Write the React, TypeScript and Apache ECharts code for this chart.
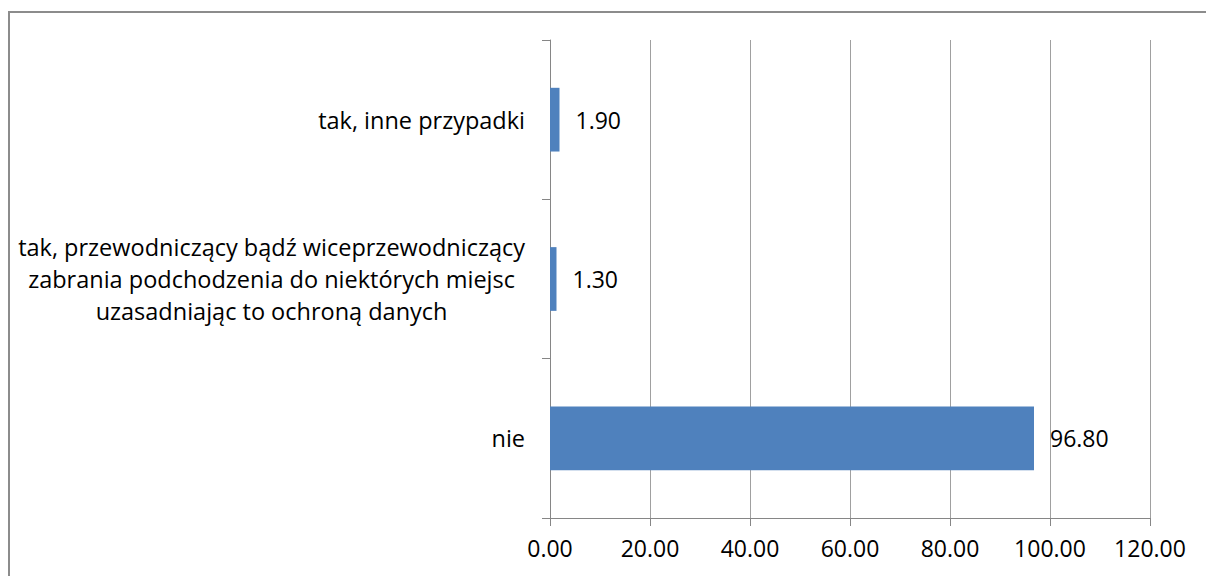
import React, { useEffect, useRef } from "react";
import * as echarts from "echarts";

const categories = [
  "nie",
  "tak, przewodniczący bądź wiceprzewodniczący\nzabrania podchodzenia do niektórych miejsc\nuzasadniając to ochroną danych",
  "tak, inne przypadki",
];
const values = [96.8, 1.3, 1.9];
const axisMin = 0;
const axisMax = 120;
const axisStep = 20;

const FONT = "Open Sans";

export default function App() {
  const ref = useRef<HTMLDivElement>(null);
  useEffect(() => {
    if (!ref.current) return;
    const chart = echarts.init(ref.current, null, { renderer: "svg" });
    chart.setOption({
      animation: false,
      backgroundColor: "#ffffff",
      grid: { left: 550, right: 56, top: 40, bottom: 58, containLabel: false },
      graphic: [
        {
          type: "rect",
          shape: { x: 9, y: 12, width: 1300, height: 700 },
          style: { fill: "none", stroke: "#8c8c8c", lineWidth: 2 },
          silent: true,
        },
      ],
      xAxis: {
        type: "value",
        min: axisMin,
        max: axisMax,
        interval: axisStep,
        axisLine: { show: true, lineStyle: { color: "#868686", width: 1 } },
        axisTick: { show: true, length: 8, lineStyle: { color: "#868686" } },
        splitLine: { show: true, lineStyle: { color: "#a0a0a0", width: 1 } },
        axisLabel: {
          formatter: (v: number) => v.toFixed(2),
          color: "#000",
          fontFamily: FONT,
          fontSize: 23,
          margin: 18,
        },
      },
      yAxis: {
        type: "category",
        data: categories,
        axisLine: { show: true, lineStyle: { color: "#868686", width: 1 } },
        axisTick: { show: true, length: 8, lineStyle: { color: "#868686" } },
        axisLabel: {
          margin: 25,
          color: "#000",
          fontFamily: FONT,
          fontSize: 23.5,
          lineHeight: 32,
          formatter: (v: string) =>
            v
              .split("\n")
              .map((l) => `{c|${l}}`)
              .join("\n"),
          rich: {
            c: {
              align: "center",
              fontFamily: FONT,
              fontSize: 23.5,
              lineHeight: 32,
              color: "#000",
            },
          },
        },
      },
      series: [
        {
          type: "bar",
          data: values,
          barCategoryGap: "60%",
          itemStyle: { color: "#4f81bd" },
          label: {
            show: true,
            position: "right",
            distance: 16,
            formatter: (p: any) => Number(p.value).toFixed(2),
            color: "#000",
            fontFamily: FONT,
            fontSize: 23,
          },
        },
      ],
    });
    return () => chart.dispose();
  }, []);
  return (
    <div
      ref={ref}
      style={{ position: "absolute", left: 0, top: 0, width: 1206, height: 576 }}
    />
  );
}
